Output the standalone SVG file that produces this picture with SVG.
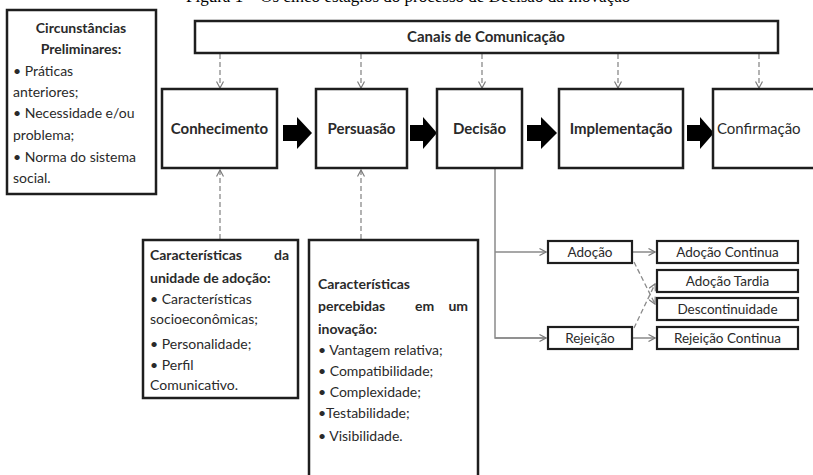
<svg xmlns="http://www.w3.org/2000/svg" width="813" height="475" viewBox="0 0 813 475">
  <style>
    .box { fill: #ffffff; stroke: #1e1e1e; stroke-width: 2.5; }
    .sbox { fill: #ffffff; stroke: #1e1e1e; stroke-width: 2.2; }
    .lbl { font-family: Lato, "Open Sans", sans-serif; fill: #2a2a2a; }
    .b { font-weight: bold; }
    .main { font-size: 15px; font-weight: bold; text-anchor: middle; }
    .body { font-size: 14px; }
    .small { font-size: 13.5px; text-anchor: middle; }
    .dash { fill: none; stroke: #8a8a8a; stroke-width: 1.3; stroke-dasharray: 5 3; }
    .solid { fill: none; stroke: #8a8a8a; stroke-width: 1.5; }
    .block { fill: #000000; }
    .title { font-family: "Liberation Serif", serif; font-size: 17px; fill: #000; }
  </style>
  <defs>
    <marker id="open" viewBox="0 0 8 8" refX="7" refY="4" markerWidth="8" markerHeight="8" markerUnits="userSpaceOnUse" orient="auto">
      <path d="M0.5,0.5 L7,4 L0.5,7.5" fill="none" stroke="#7a7a7a" stroke-width="1.2"/>
    </marker>
  </defs>

  <rect width="813" height="475" fill="#ffffff"/>

  <!-- caption line, cut by the top edge -->
  <text class="title" x="186" y="2">Figura 1 – Os cinco estágios do processo de Decisão da Inovação</text>

  <!-- connectors -->
  <g id="connectors">
    <!-- communication channels feeding each stage -->
    <path class="dash" d="M220,54 V88" marker-end="url(#open)"/>
    <path class="dash" d="M361,54 V88" marker-end="url(#open)"/>
    <path class="dash" d="M482,54 V88" marker-end="url(#open)"/>
    <path class="dash" d="M618,54 V88" marker-end="url(#open)"/>
    <path class="dash" d="M759,54 V88" marker-end="url(#open)"/>
    <!-- characteristics feeding knowledge and persuasion -->
    <path class="dash" d="M220,239 V170" marker-end="url(#open)"/>
    <path class="dash" d="M361,239 V170" marker-end="url(#open)"/>
    <!-- stage-to-stage block arrows -->
    <path class="block" d="M283,125 H297 V117 L312,133 L297,149 V141 H283 Z"/>
    <path class="block" d="M410,125 H423 V117 L437,133 L423,149 V141 H410 Z"/>
    <path class="block" d="M527,125 H541 V117 L557,133 L541,149 V141 H527 Z"/>
    <path class="block" d="M687,125 H700 V117 L714,133 L700,149 V141 H687 Z"/>
    <!-- decision branches -->
    <path class="solid" d="M495,169 V338 H546"/>
    <path class="solid" d="M495,252 H546" marker-end="url(#open)"/>
    <path class="solid" d="M495,338 H546" marker-end="url(#open)"/>
    <path class="solid" d="M633,252 H655" marker-end="url(#open)"/>
    <path class="solid" d="M633,338 H655" marker-end="url(#open)"/>
    <path class="dash" d="M634,262 L655,304" marker-end="url(#open)"/>
    <path class="dash" d="M634,328 L655,284" marker-end="url(#open)"/>
  </g>

  <g id="circunstancias">
    <rect class="box" x="7" y="10" width="149" height="184"/>
    <text class="lbl b" x="81" y="33" font-size="14" text-anchor="middle">Circunstâncias</text>
    <text class="lbl b" x="81" y="54" font-size="14" text-anchor="middle">Preliminares:</text>
    <text class="lbl body" x="13" y="76">• Práticas</text>
    <text class="lbl body" x="13" y="97">anteriores;</text>
    <text class="lbl body" x="13" y="118">•  Necessidade  e/ou</text>
    <text class="lbl body" x="13" y="140">problema;</text>
    <text class="lbl body" x="13" y="162">•  Norma do sistema</text>
    <text class="lbl body" x="13" y="183">social.</text>
  </g>

  <g id="canais">
    <rect class="box" x="195" y="21" width="583" height="32"/>
    <text class="lbl main" x="486" y="42">Canais de Comunicação</text>
  </g>

  <g id="conhecimento">
    <rect class="box" x="162" y="89" width="115" height="79"/>
    <text class="lbl main" x="219.5" y="134">Conhecimento</text>
  </g>

  <g id="persuasao">
    <rect class="box" x="316" y="89" width="91" height="79"/>
    <text class="lbl main" x="361.5" y="134">Persuasão</text>
  </g>

  <g id="decisao">
    <rect class="box" x="437" y="89" width="85" height="79"/>
    <text class="lbl main" x="479.5" y="134">Decisão</text>
  </g>

  <g id="implementacao">
    <rect class="box" x="559" y="89" width="124" height="79"/>
    <text class="lbl main" x="621" y="134">Implementação</text>
  </g>

  <g id="confirmacao">
    <rect class="box" x="713" y="89" width="115" height="79"/>
    <text class="lbl" x="717" y="134" font-size="15">Confirmação</text>
  </g>

  <g id="unidade-adocao">
    <rect class="box" x="143" y="240" width="155" height="158"/>
    <text class="lbl b" x="150" y="260" font-size="14">Características</text>
    <text class="lbl b" x="289" y="260" font-size="14" text-anchor="end">da</text>
    <text class="lbl b" x="150" y="283" font-size="14">unidade de adoção:</text>
    <text class="lbl body" x="150" y="304">•  Características</text>
    <text class="lbl body" x="150" y="324">socioeconômicas;</text>
    <text class="lbl body" x="150" y="349">•  Personalidade;</text>
    <text class="lbl body" x="150" y="370">•  Perfil</text>
    <text class="lbl body" x="150" y="390">Comunicativo.</text>
  </g>

  <g id="caracteristicas-percebidas">
    <rect class="box" x="309" y="240" width="169" height="245"/>
    <text class="lbl b" x="318" y="289" font-size="14">Características</text>
    <text class="lbl b" x="318" y="311" font-size="14">percebidas</text>
    <text class="lbl b" x="415" y="311" font-size="14">em</text>
    <text class="lbl b" x="468" y="311" font-size="14" text-anchor="end">um</text>
    <text class="lbl b" x="318" y="334" font-size="14">inovação:</text>
    <text class="lbl body" x="318" y="355">•  Vantagem relativa;</text>
    <text class="lbl body" x="318" y="376">•  Compatibilidade;</text>
    <text class="lbl body" x="318" y="397">•  Complexidade;</text>
    <text class="lbl body" x="318" y="418">•Testabilidade;</text>
    <text class="lbl body" x="318" y="441">• Visibilidade.</text>
  </g>

  <g id="adocao">
    <rect class="sbox" x="548" y="241" width="84" height="22"/>
    <text class="lbl small" x="590" y="257">Adoção</text>
  </g>
  <g id="rejeicao">
    <rect class="sbox" x="548" y="327" width="84" height="22"/>
    <text class="lbl small" x="590" y="343">Rejeição</text>
  </g>
  <g id="adocao-continua">
    <rect class="sbox" x="657" y="241" width="141" height="22"/>
    <text class="lbl small" x="727.5" y="257">Adoção Continua</text>
  </g>
  <g id="adocao-tardia">
    <rect class="sbox" x="657" y="270" width="141" height="22"/>
    <text class="lbl small" x="727.5" y="286">Adoção  Tardia</text>
  </g>
  <g id="descontinuidade">
    <rect class="sbox" x="657" y="298" width="141" height="22"/>
    <text class="lbl small" x="727.5" y="314">Descontinuidade</text>
  </g>
  <g id="rejeicao-continua">
    <rect class="sbox" x="657" y="327" width="141" height="22"/>
    <text class="lbl small" x="727.5" y="343">Rejeição  Continua</text>
  </g>
</svg>
